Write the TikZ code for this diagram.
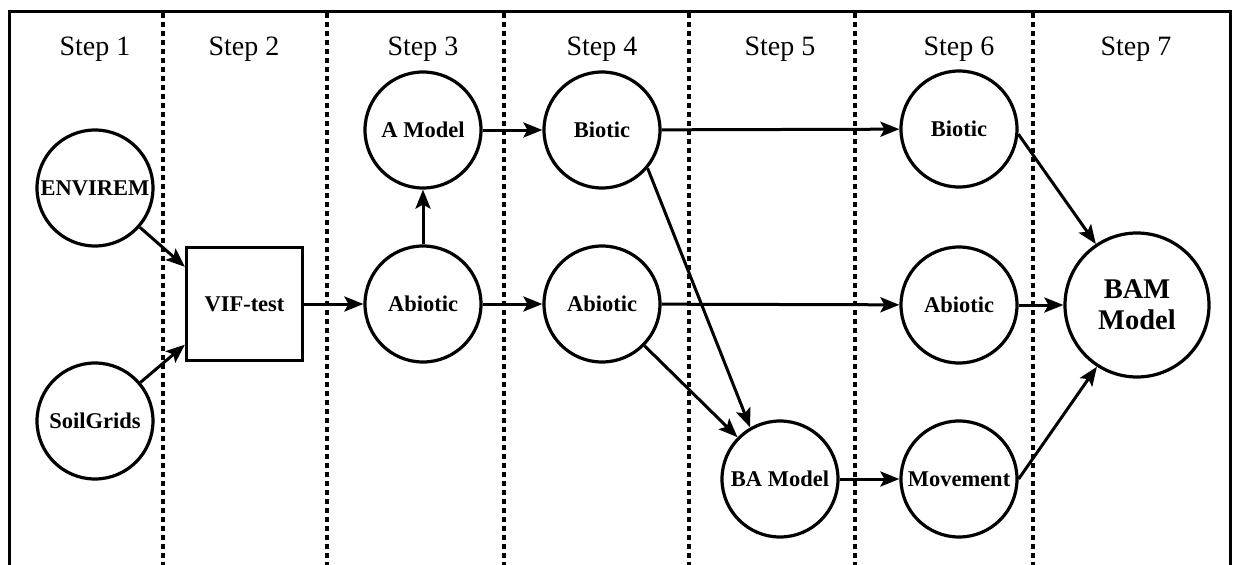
\documentclass[tikz,border=0pt]{standalone}
\usepackage{fontspec}
\setmainfont{Liberation Serif}
\usetikzlibrary{arrows.meta,calc}
\begin{document}
\begin{tikzpicture}[x=1pt,y=-1pt,
  circ/.style={draw,circle,line width=3.2pt,minimum size=116pt,inner sep=0pt,font=\fontsize{22.5}{27}\selectfont\bfseries},
  bigcirc/.style={draw,circle,line width=3.2pt,minimum size=144pt,inner sep=0pt,align=center,font=\fontsize{28.5}{31}\selectfont\bfseries},
  box/.style={draw,rectangle,line width=3.2pt,minimum width=116pt,minimum height=113pt,inner sep=0pt,font=\fontsize{22.5}{27}\selectfont\bfseries},
  arr/.style={line width=3pt,-{Stealth[length=19pt,width=15pt,inset=4pt]}},
  sepline/.style={line width=3.2pt,dash pattern=on 4.5pt off 4.5pt},
  steplab/.style={font=\fontsize{28}{30}\selectfont,anchor=base}]
\useasboundingbox (0,0) rectangle (1235,565);
% frame
\draw[line width=3pt] (9,565) -- (9,11) -- (1230,11) -- (1230,565);
% separators
\foreach \x in {163,327,504,689,855,1033} {
  \draw[sepline] (\x,13) -- (\x,565);
}
% step labels
\node[steplab] (s1) at (95,55) {Step 1};
\node[steplab] (s2) at (244,55) {Step 2};
\node[steplab] (s3) at (423,55) {Step 3};
\node[steplab] (s4) at (602,55) {Step 4};
\node[steplab] (s5) at (780,55) {Step 5};
\node[steplab] (s6) at (959,55) {Step 6};
\node[steplab] (s7) at (1136,55) {Step 7};
% nodes
\node[circ,fill=white] (env) at (95,188) {ENVIREM};
\node[circ,fill=white] (soil) at (95,421) {SoilGrids};
\node[box,fill=white] (vif) at (244.5,304) {VIF-test};
\node[circ,fill=white] (abio3) at (423,304) {Abiotic};
\node[circ,fill=white] (amod) at (423,130) {A Model};
\node[circ,fill=white] (bio4) at (602,130) {Biotic};
\node[circ,fill=white] (abio4) at (602,304) {Abiotic};
\node[circ,fill=white] (ba) at (780,479) {BA Model};
\node[circ,fill=white] (bio6) at (959,129) {Biotic};
\node[circ,fill=white] (abio6) at (959,305) {Abiotic};
\node[circ,fill=white] (mov) at (959,479) {Movement};
\node[bigcirc,fill=white] (bam) at (1137,305) {BAM\\Model};
% helper coordinates on the VIF box
\coordinate (vifin1) at ($(vif.north west)!0.18!(vif.south west)$);
\coordinate (vifin2) at ($(vif.north west)!0.85!(vif.south west)$);
% connectors
\draw[arr] (env) -- (vifin1);
\draw[arr] (soil) -- (vifin2);
\draw[arr] (vif) -- (abio3);
\draw[arr] (abio3) -- (amod);
\draw[arr] (amod) -- (bio4);
\draw[arr] (abio3) -- (abio4);
\draw[arr] (bio4) -- (bio6);
\draw[arr] (abio4) -- (abio6);
\draw[arr] (bio4.-40) -- (ba.120);
\draw[arr] (abio4) -- (ba);
\draw[arr] (ba) -- (mov);
\draw[arr] (bio6.-5) -- (bam.124);
\draw[arr] (abio6) -- (bam);
\draw[arr] (mov.east) -- (bam.-123);
\end{tikzpicture}
\end{document}
